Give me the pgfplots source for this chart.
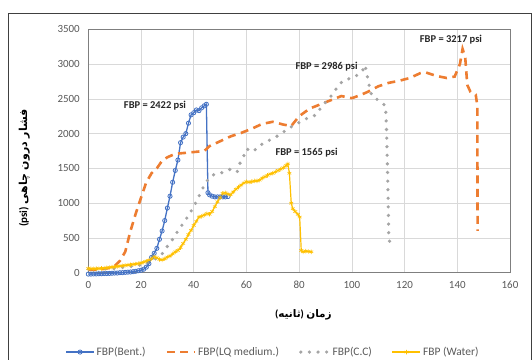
\documentclass[border=0pt]{standalone}
\usepackage{pgfplots}
\pgfplotsset{compat=1.18}
\usepackage{fontspec}
\setmainfont{Carlito}
\newfontfamily\arabicfont[Script=Arabic]{DejaVu Sans}
\TeXXeTstate=1
\definecolor{cblue}{HTML}{4472C4}
\definecolor{corange}{HTML}{ED7D31}
\definecolor{cgray}{HTML}{A5A5A5}
\definecolor{cyellow}{HTML}{FFC000}
\definecolor{gridgray}{HTML}{D9D9D9}
\definecolor{axisgray}{HTML}{7F7F7F}
\definecolor{labelgray}{HTML}{595959}
\begin{document}
\begin{tikzpicture}
\begin{axis}[
  name=ax,
  scale only axis,
  clip=false,
  width=421.7bp, height=243.4bp,
  xmin=0, xmax=160, ymin=0, ymax=3500,
  xtick={0,20,...,160}, ytick={0,500,...,3500},
  grid=major, major grid style={color=gridgray, line width=0.6bp},
  axis line style={color=axisgray, line width=0.8bp},
  major tick length=0pt,
  tick label style={font=\fontsize{11}{13}\selectfont, color=labelgray},
  /pgf/number format/assume math mode=true,
  /pgf/number format/1000 sep={},
  xticklabel style={yshift=-5bp},
  yticklabel style={xshift=-5bp},
  xlabel={({\arabicfont\bfseries\beginR ثانیه\endR}) {\arabicfont\bfseries\beginR زمان\endR}},
  xlabel style={at={(axis description cs:0.51,-0.175)}, anchor=center, font=\fontsize{10.5}{12}\selectfont\bfseries},
  ylabel={\textbf{(psi)} {\arabicfont\bfseries\beginR فشار درون چاهی\endR}},
  ylabel style={at={(axis description cs:-0.152,0.43)}, anchor=center, rotate=0, font=\fontsize{11}{12}\selectfont},
  legend columns=4,
  legend style={at={(axis description cs:0.438,-0.326)}, anchor=center, draw=none, fill=none,
    font=\fontsize{11.5}{13}\selectfont, text=labelgray,
    /tikz/every even column/.append style={column sep=18bp}},
  legend image code/.code={\draw[mark repeat=2,mark phase=2,#1] plot coordinates {(0bp,0bp) (14bp,0bp) (28bp,0bp)};},
]
% Bent.
\addplot[color=cblue, line width=1.3bp, mark=o, mark size=2.1bp, mark options={solid, line width=0.8bp}] coordinates {
(0,-20) (1,-20) (2,-18) (3,-18) (4,-15) (5,-15) (6,-12) (7,-12) (8,-10) (9,-8) (10,-5) (11,-5) (12,0) (13,0) (14,5) (15,8) (16,10) (17,15) (18,20) (19,28) (20,35) (21,50) (22,80) (23,130) (24,220) (25,280) (26,350) (27,480) (28,600) (29,750) (30,930) (31,1100) (32,1300) (33,1470) (34,1620) (35,1870) (36,1950) (37,2000) (38,2150) (39,2270) (40,2300) (41,2340) (42,2330) (43,2370) (44,2400) (44.8,2422) (45.4,1150) (46,1120) (47,1100) (48,1090) (49,1090) (50,1090) (51,1090) (52,1090) (53,1095)
};
\addlegendentry{FBP(Bent.)}
% LQ medium
\addplot[color=corange, line width=2.6bp, dash pattern=on 8bp off 5.5bp, mark=none] coordinates {
(0,40) (4,45) (7,60) (10,95) (12,170) (14,300) (16,600) (18,850) (20,1080) (22,1300) (24,1430) (26,1500) (28,1610) (30,1660) (33,1710) (36,1720) (40,1735) (44,1750) (46,1820) (50,1890) (54,1960) (58,2010) (62,2070) (66,2140) (70,2170) (74,2130) (77,2110) (80,2250) (84,2360) (88,2420) (92,2480) (96,2540) (100,2510) (103,2550) (106,2600) (110,2680) (114,2730) (118,2760) (122,2800) (126,2870) (128,2880) (132,2830) (136,2800) (139,2820) (141,3000) (142,3217) (143,3100) (143.8,2700) (145,2600) (147,2560) (147.6,2400) (147.7,600)
};
\addlegendentry{FBP(LQ medium.)}
% C.C
\addplot[color=cgray, line width=3.6bp, dash pattern=on 0bp off 8.6bp, line cap=round, mark=none] coordinates {
(0,50) (10,60) (20,110) (24,170) (26,210) (28,270) (30,380) (32,480) (34,600) (36,710) (38,820) (40,950) (42,1100) (44,1260) (46,1370) (48,1420) (51,1440) (54,1490) (56.5,1450) (57.5,1570) (59,1680) (60,1780) (62.5,1740) (65,1830) (69,1910) (72.5,1980) (75,2050) (78,2120) (81,2180) (83,2220) (86.5,2270) (88.5,2390) (91,2490) (93,2580) (95,2700) (97,2770) (100,2800) (102,2840) (104,2900) (105,2986) (106,2800) (106.7,2670) (107.5,2550) (110,2480) (112.8,2400) (113.2,2000) (113.5,1500) (113.8,1000) (114,500) (114.5,420) (115.5,350)
};
\addlegendentry{FBP(C.C)}
% Water
\addplot[color=cyellow, line width=1.2bp, mark=asterisk, mark size=2.2bp, mark options={solid, line width=0.6bp}] coordinates {
(0,60) (1,58) (2,55) (3,58) (4,60) (5,62) (6,65) (7,70) (8,75) (9,80) (10,85) (11,90) (12,95) (13,100) (14,105) (15,110) (16,115) (17,120) (18,125) (19,132) (20,140) (21,150) (22,165) (23,180) (24,200) (25,230) (26,215) (27,190) (28,185) (29,200) (30,225) (31,240) (32,270) (33,300) (34,320) (35,360) (36,420) (37,480) (38,550) (39,610) (40,680) (41,740) (42,800) (43,810) (44,830) (45,850) (46,840) (47,880) (48,950) (49,1020) (50,1080) (51,1140) (52,1150) (53,1130) (54,1120) (55,1160) (56,1200) (57,1230) (58,1260) (59,1290) (60,1310) (61,1300) (62,1310) (63,1320) (64,1320) (65,1330) (66,1360) (67,1380) (68,1400) (69,1420) (70,1430) (71,1450) (72,1470) (73,1490) (74,1510) (75,1540) (75.7,1565) (76.3,1430) (77,1000) (77.6,920) (78.5,880) (79.5,840) (80.2,800) (80.8,320) (81.5,300) (82.5,310) (83.5,305) (84.6,300)
};
\addlegendentry{FBP (Water)}
\node[font=\fontsize{10.5}{12}\selectfont\bfseries, text=black!85] at (axis cs:25.3,2397) {FBP = 2422 psi};
\node[font=\fontsize{10.5}{12}\selectfont\bfseries, text=black!85] at (axis cs:90.4,2962) {FBP = 2986 psi};
\node[font=\fontsize{10.5}{12}\selectfont\bfseries, text=black!85] at (axis cs:137.6,3346) {FBP = 3217 psi};
\node[font=\fontsize{10.5}{12}\selectfont\bfseries, text=black!85] at (axis cs:82.8,1726) {FBP = 1565 psi};
\end{axis}
\draw[color=black!75, line width=0.9bp] ([shift={(-80.3bp,-100bp)}]ax.south west) -- ([shift={(-80.3bp,259.7bp)}]ax.south west) -- ([shift={(442.7bp,259.7bp)}]ax.south west) -- ([shift={(442.7bp,-100bp)}]ax.south west);
\pgfresetboundingbox
\path[use as bounding box] ([shift={(-88.3bp,-87.3bp)}]ax.south west) rectangle ([shift={(443.7bp,272.7bp)}]ax.south west);
\end{tikzpicture}
\end{document}
